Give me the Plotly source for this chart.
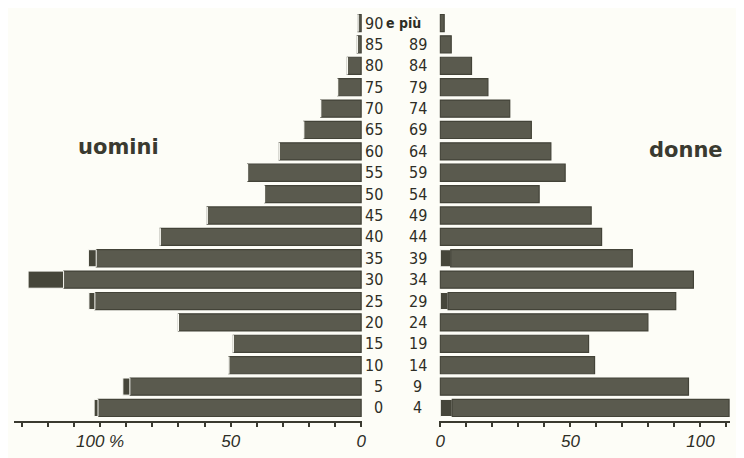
import plotly.graph_objects as go

# age classes, bottom (0-4) to top (90 e più)
age_low = ["0", "5", "10", "15", "20", "25", "30", "35", "40", "45",
           "50", "55", "60", "65", "70", "75", "80", "85", "90"]
age_high = ["4", "9", "14", "19", "24", "29", "34", "39", "44", "49",
            "54", "59", "64", "69", "74", "79", "84", "89", "e più"]
ages = [f"{a}-{b}" for a, b in zip(age_low, age_high)]

# uomini: main bar + darker outer piece
men_main = [100.8, 88.6, 50.7, 49.0, 70.0, 102.0, 114.0, 101.5, 77.0, 59.0,
            37.0, 43.5, 31.4, 22.0, 15.5, 9.0, 5.3, 1.5, 1.2]
men_extra = [1.5, 2.7, 0, 0, 0, 2.3, 13.6, 3.0, 0, 0,
             0, 0, 0, 0, 0, 0, 0, 0, 0]

# donne: darker inner piece + rest of the bar
women_inner = [4.6, 0, 0, 0, 0, 3.0, 0, 4.0, 0, 0,
               0, 0, 0, 0, 0, 0, 0, 0, 0]
women_rest = [106.4, 95.4, 59.3, 57.0, 79.8, 87.5, 97.3, 69.8, 62.0, 58.0,
              38.0, 48.0, 42.5, 35.0, 26.7, 18.3, 12.0, 4.2, 1.5]

left_ticks = list(range(0, 140, 10))
left_text = ["0", "", "", "", "", "50", "", "", "", "", "100 %", "", "", ""]
right_ticks = list(range(0, 120, 10))
right_text = ["0", "", "", "", "", "50", "", "", "", "", "100", ""]

BG = "#fdfdf7"
MAIN = "#5a5a4e"
EDGE = "#434338"
DARK = "#46463a"
INK = "#2e2e26"
# the page body has an 8px margin, so the figure is drawn 8px in
W, H = 736, 450

fig = go.Figure()

fig.add_trace(go.Bar(
    y=ages, x=men_main, orientation="h", xaxis="x", yaxis="y",
    marker=dict(color=MAIN, line=dict(color=EDGE, width=1.2)),
    width=0.8, showlegend=False, hoverinfo="skip",
))
fig.add_trace(go.Bar(
    y=ages, x=men_extra, base=men_main, orientation="h", xaxis="x", yaxis="y",
    marker=dict(color=DARK, line=dict(color=BG, width=1)),
    width=0.8, showlegend=False, hoverinfo="skip",
))
fig.add_trace(go.Bar(
    y=ages, x=women_inner, orientation="h", xaxis="x2", yaxis="y",
    marker=dict(color=DARK, line=dict(color=BG, width=1)),
    width=0.8, showlegend=False, hoverinfo="skip",
))
fig.add_trace(go.Bar(
    y=ages, x=women_rest, base=women_inner, orientation="h", xaxis="x2", yaxis="y",
    marker=dict(color=MAIN, line=dict(color=EDGE, width=1.2)),
    width=0.8, showlegend=False, hoverinfo="skip",
))

num_font = dict(family="Liberation Sans Narrow, DejaVu Sans Condensed, sans-serif",
                size=16, color=INK)
for lo, hi, cat in zip(age_low, age_high, ages):
    fig.add_annotation(x=377 / W, y=cat, xref="paper", yref="y", text=lo,
                       showarrow=False, xanchor="right", yanchor="middle", font=num_font)
    if hi == "e più":
        fig.add_annotation(x=376 / W, y=cat, xref="paper", yref="y", text="<b>e più</b>",
                           showarrow=False, xanchor="left", yanchor="middle",
                           font=dict(family="Liberation Sans Narrow, DejaVu Sans Condensed, sans-serif",
                                     size=14, color=INK))
    else:
        fig.add_annotation(x=410 / W, y=cat, xref="paper", yref="y", text=hi,
                           showarrow=False, xanchor="center", yanchor="middle", font=num_font)

label_font = dict(family="DejaVu Sans, sans-serif", size=21, color="#3a3a30")
fig.add_annotation(x=108 / W, y=0.667, xref="paper", yref="paper", text="<b>uomini</b>",
                   showarrow=False, xanchor="center", yanchor="middle", font=label_font)
fig.add_annotation(x=681 / W, y=0.659, xref="paper", yref="paper", text="<b>donne</b>",
                   showarrow=False, xanchor="center", yanchor="middle", font=label_font)

tick_font = dict(family="Liberation Sans, sans-serif", size=17, color=INK, style="italic")
axis_common = dict(
    showgrid=False, zeroline=False, showline=True, linecolor="#3a3a30", linewidth=2,
    ticks="outside", ticklen=4, tickwidth=2, tickcolor="#3a3a30",
    tickfont=tick_font, anchor="y", fixedrange=True,
)

fig.update_layout(
    width=W, height=H,
    margin=dict(l=0, r=0, t=2, b=37),
    paper_bgcolor=BG, plot_bgcolor=BG,
    barmode="overlay",
    xaxis=dict(domain=[2 / W, 354 / W], range=[133, -0.38],
               tickvals=left_ticks, ticktext=left_text, **axis_common),
    xaxis2=dict(domain=[432 / W, 726 / W], range=[-0.38, 111.4],
                tickvals=right_ticks, ticktext=right_text, **axis_common),
    yaxis=dict(type="category", categoryorder="array", categoryarray=ages,
               range=[-0.61, 18.61], showticklabels=False, showgrid=False,
               zeroline=False, showline=False, fixedrange=True),
)

fig.write_html("out.html")
